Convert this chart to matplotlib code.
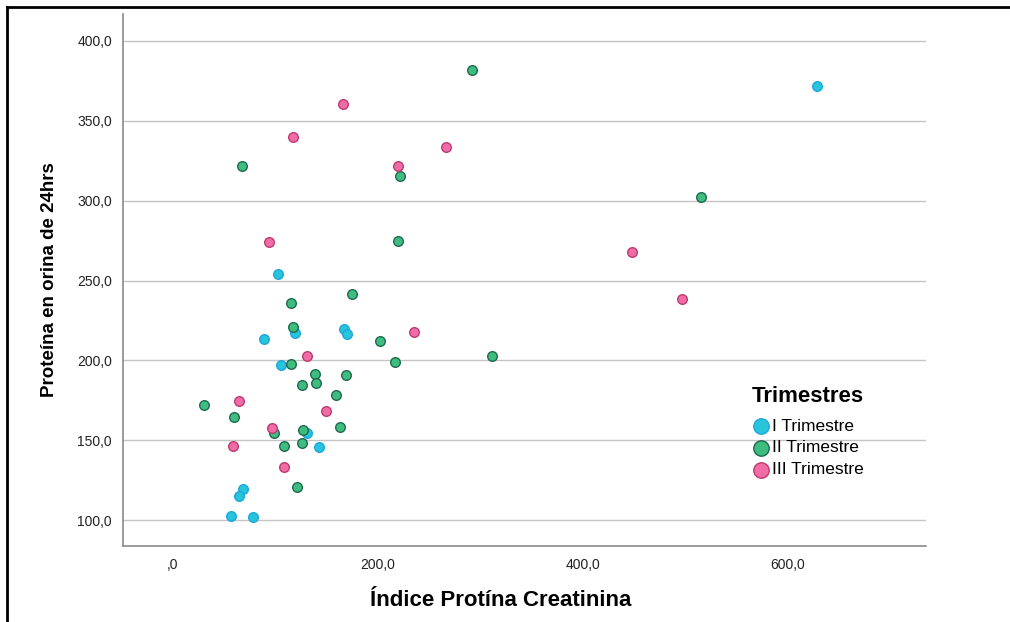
import matplotlib
matplotlib.use("Agg")
import matplotlib.pyplot as plt
from matplotlib.lines import Line2D
import numpy as np

plt.rcParams['font.family'] = ['Liberation Sans', 'DejaVu Sans']

# Datos: Índice proteína/creatinina vs proteína en orina de 24hrs
x_t1 = [628.0, 103.1, 89.5, 120.0, 167.5, 170.7, 106.0, 131.4, 143.4, 69.3, 65.1, 57.6, 78.7]
y_t1 = [371.9, 254.2, 213.6, 217.3, 219.4, 216.3, 196.9, 154.8, 145.8, 119.6, 114.8, 102.7, 102.1]

x_t2 = [292.4, 515.4, 68.6, 222.1, 220.5, 175.3, 115.4, 118.3, 202.9, 115.4, 217.3, 311.5,
        139.5, 169.1, 126.5, 140.5, 159.7, 31.5, 60.8, 163.9, 99.8, 127.3, 109.0, 126.3, 121.3]
y_t2 = [381.7, 302.3, 321.9, 315.6, 274.8, 241.7, 235.8, 220.8, 211.9, 197.7, 198.8, 202.5,
        191.3, 190.6, 184.8, 185.6, 178.1, 171.9, 164.8, 158.3, 154.4, 156.3, 146.4, 148.4, 120.4]

x_t3 = [166.8, 117.4, 220.2, 267.3, 94.0, 448.5, 496.6, 235.4, 131.4, 65.4, 150.2, 96.9, 59.2, 109.3]
y_t3 = [360.8, 340.0, 321.4, 333.3, 274.4, 268.1, 238.3, 217.9, 202.5, 174.7, 168.3, 157.9, 146.4, 133.1]

series = [
    ("I Trimestre", x_t1, y_t1, "#27c4dc", "#1fa6dc"),
    ("II Trimestre", x_t2, y_t2, "#3fbd80", "#1d6a4e"),
    ("III Trimestre", x_t3, y_t3, "#f06ca6", "#bd3a70"),
]

fig = plt.figure(figsize=(10.1, 6.22), dpi=100)
ax = fig.add_axes([0.1218, 0.1222, 0.7950, 0.8553])

for nombre, xs, ys, cara, borde in series:
    ax.scatter(xs, ys, s=48, c=cara, edgecolors=borde, linewidths=1.0,
               label=nombre, zorder=3)

ax.set_xlim(-47.8, 734.6)
ax.set_ylim(83.75, 416.9)

ax.set_xticks([0, 200, 400, 600])
ax.set_xticklabels([",0", "200,0", "400,0", "600,0"])
ax.set_yticks([100, 150, 200, 250, 300, 350, 400])
ax.set_yticklabels(["100,0", "150,0", "200,0", "250,0", "300,0", "350,0", "400,0"])
ax.tick_params(length=0, labelsize=10, colors="#222222", pad=8)
ax.tick_params(axis="x", pad=9)

ax.grid(axis="y", color="#c4c4c4", linewidth=1.0, zorder=0)
ax.set_axisbelow(True)
for lado in ["top", "right"]:
    ax.spines[lado].set_visible(False)
for lado in ["left", "bottom"]:
    ax.spines[lado].set_color("#8a8a8a")
    ax.spines[lado].set_linewidth(1.2)

ax.set_xlabel("Índice Protína Creatinina", fontsize=16, fontweight="bold")
ax.xaxis.set_label_coords(0.47, -0.082, transform=ax.transAxes)
ax.xaxis.label.set_verticalalignment("top")
ax.set_ylabel("Proteína en orina de 24hrs", fontsize=13.5, fontweight="bold", labelpad=14)

leg = ax.legend(title="Trimestres", loc="upper left", bbox_to_anchor=(0.783, 0.30),
                frameon=False, fontsize=12.5, markerscale=1.6, handletextpad=0.05,
                labelspacing=0.38, borderaxespad=0, borderpad=0, handlelength=1.1)
leg.get_title().set_fontweight("bold")
leg.get_title().set_fontsize(16)
leg._legend_box.align = "left"
leg._legend_box.sep = 8

# marco negro del recorte
fig.add_artist(Line2D([7 / 1010, 1], [1 - 7 / 622, 1 - 7 / 622], color="black", linewidth=2,
                      transform=fig.transFigure))
fig.add_artist(Line2D([7 / 1010, 7 / 1010], [0, 1 - 7 / 622], color="black", linewidth=2,
                      transform=fig.transFigure))

fig.savefig("out.png", dpi=100)
